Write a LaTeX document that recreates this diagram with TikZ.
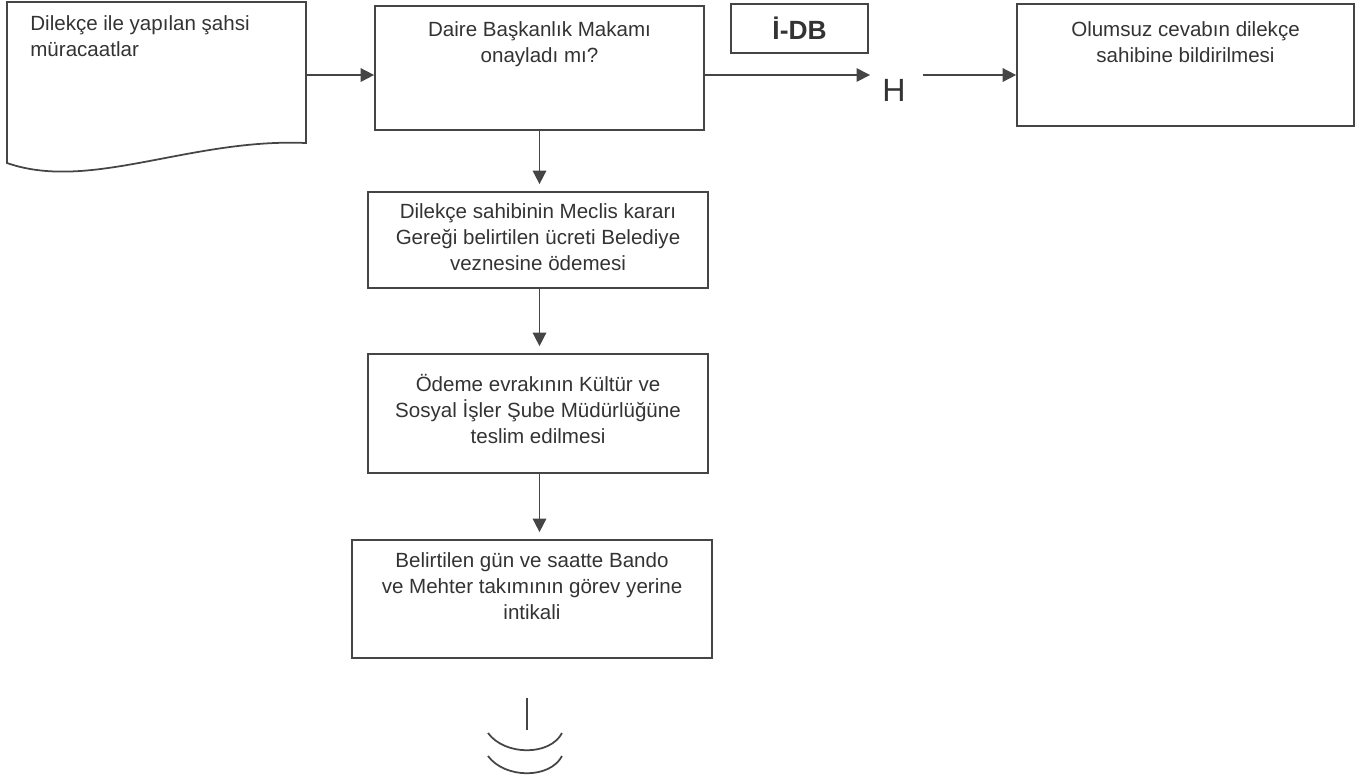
\documentclass[tikz,border=0pt]{standalone}
\usepackage{fontspec}
\setmainfont{Liberation Sans}
\usetikzlibrary{arrows.meta,positioning}
\definecolor{cizgi}{HTML}{454545}
\definecolor{yazirengi}{HTML}{333333}

\begin{document}
\begin{tikzpicture}[x=0.02cm,y=-0.02cm]
        \tikzset{kutu/.style={draw=cizgi,line width=1pt,inner sep=0pt},
          yazi/.style={inner sep=0pt,align=center,text=yazirengi,
            font=\fontsize{11.7pt}{14.8pt}\selectfont},
          ok/.style={draw=cizgi,line width=0.9pt,
            -{Triangle[length=0.27cm,width=0.27cm]}}}
        \useasboundingbox (0,0) rectangle (1355,779);
        \draw[cizgi,line width=1pt] (7,2) -- (306,2) -- (306,143)
          .. controls (190,138) and (90,192) .. (7,163) -- cycle;
        \node[yazi,align=left,anchor=north west] (dilekcemetin) at (30,15)
          {Dilekçe ile yapılan şahsi\\müracaatlar};
        \coordinate (dilekce) at (306,75);
        \node[kutu,minimum width=6.58cm,minimum height=2.48cm] (onay) at (539.5,68) {};
        \node[yazi,anchor=north,below=0.32cm of onay.north] (onaymetin)
          {Daire Başkanlık Makamı\\onayladı mı?};
        \node[kutu,minimum width=2.74cm,minimum height=0.98cm,text=yazirengi,
          font=\fontsize{15pt}{17pt}\selectfont\bfseries] (idb) at (799.5,28.5) {İ-DB};
        \node[inner xsep=0.24cm,inner ysep=0pt,text=yazirengi,
          font=\fontsize{18.3pt}{20pt}\selectfont] (hayir) at (894,90) {H};
        \node[kutu,minimum width=6.74cm,minimum height=2.44cm] (olumsuz) at (1185.5,65) {};
        \node[yazi,anchor=north,below=0.36cm of olumsuz.north] (olumsuzmetin)
          {Olumsuz cevabın dilekçe\\sahibine bildirilmesi};
        \node[kutu,minimum width=6.8cm,minimum height=1.92cm] (ucret) at (538,240) {};
        \node[yazi,anchor=north,below=0.24cm of ucret.north] (ucretmetin)
          {Dilekçe sahibinin Meclis kararı\\Gereği belirtilen ücreti Belediye\\veznesine ödemesi};
        \node[kutu,minimum width=6.8cm,minimum height=2.38cm] (teslim) at (538,413.5) {};
        \node[yazi,anchor=north,below=0.42cm of teslim.north] (teslimmetin)
          {Ödeme evrakının Kültür ve\\Sosyal İşler Şube Müdürlüğüne\\teslim edilmesi};
        \node[kutu,minimum width=7.2cm,minimum height=2.36cm] (intikal) at (532,599) {};
        \node[yazi,anchor=north,below=0.27cm of intikal.north] (intikalmetin)
          {Belirtilen gün ve saatte Bando\\ve Mehter takımının görev yerine\\intikali};
        \draw[ok] (dilekce) -- (onay.west |- dilekce);
        \draw[ok] (onay.east |- dilekce) -- (hayir.west |- dilekce);
        \draw[ok,shorten <=0.1cm] (hayir.east |- dilekce) -- (olumsuz.west |- dilekce);
        \draw[ok,shorten >=0.14cm] (onay.south) -- (onay.south |- ucret.north);
        \draw[ok,shorten >=0.14cm] (onay.south |- ucret.south) -- (onay.south |- teslim.north);
        \draw[ok,shorten >=0.14cm] (onay.south |- teslim.south) -- (onay.south |- intikal.north);
        \coordinate (son) at (527,698);
        \draw[cizgi,line width=0.6pt] (son) -- ++(0,32);
        \draw[cizgi,line width=1pt] (488,733) .. controls (505,756) and (550,756) .. (562,733);
        \draw[cizgi,line width=1pt] (488,756) .. controls (505,779) and (550,779) .. (562,756);
      \end{tikzpicture}
\end{document}
